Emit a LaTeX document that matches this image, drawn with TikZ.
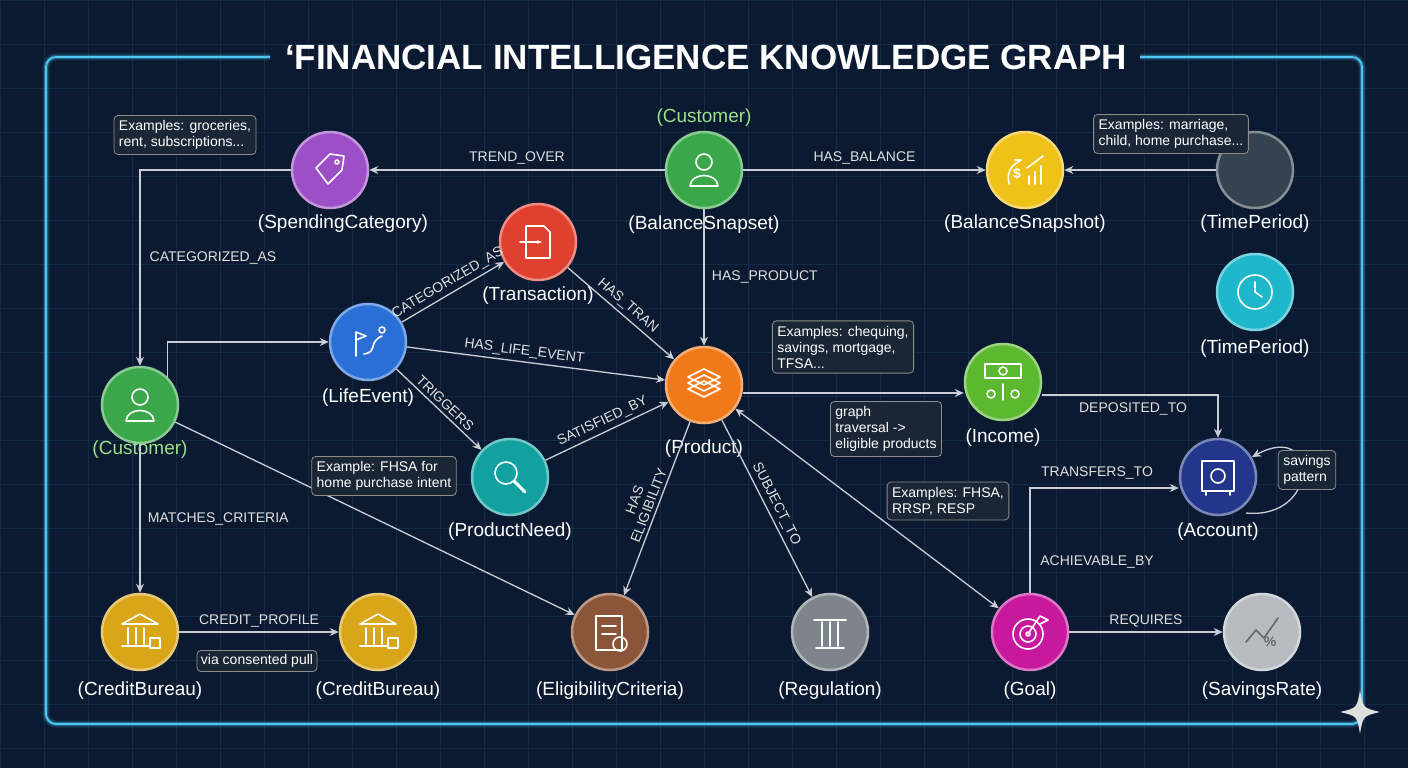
\documentclass[tikz,border=0pt]{standalone}
\usepackage{fontspec}
\setmainfont{Liberation Sans}
\usetikzlibrary{arrows.meta,calc}
\definecolor{bg}{HTML}{0B1A30}
\definecolor{gridc}{HTML}{142B48}
\definecolor{edgec}{HTML}{C9CED6}
\definecolor{lg}{HTML}{9BE08A}
\definecolor{cb}{HTML}{1A2636}
\definecolor{cGreen}{HTML}{3AA84A}
\definecolor{cPurple}{HTML}{9C4FC6}
\definecolor{cYellow}{HTML}{EFC21A}
\definecolor{cDark}{HTML}{34434F}
\definecolor{cCyan}{HTML}{1FB7CC}
\definecolor{cRed}{HTML}{E0402F}
\definecolor{cBlue}{HTML}{2A6FD6}
\definecolor{cOrange}{HTML}{F07A1A}
\definecolor{cLime}{HTML}{5CB82E}
\definecolor{cNavy}{HTML}{23378A}
\definecolor{cTeal}{HTML}{13A0A0}
\definecolor{cGold}{HTML}{D9A61A}
\definecolor{cBrown}{HTML}{8A5538}
\definecolor{cGrey}{HTML}{7D848C}
\definecolor{cMag}{HTML}{C8199E}
\definecolor{cSilver}{HTML}{B8BCC2}
\tikzset{
 ball/.style={circle,minimum size=76pt,fill=#1,draw=#1!60!white,line width=2.5pt},
 lab/.style={text=white,font=\fontsize{19}{22}\selectfont},
 elab/.style={text=white!88!black,font=\fontsize{14}{16}\selectfont},
 arr/.style={draw=edgec,line width=1.3pt,-{Stealth[length=9pt,width=8pt]}},
 call/.style={draw=white!55!black,fill=cb,rounded corners=4pt,line width=0.8pt,text=white,align=left,font=\fontsize{14}{16}\selectfont,inner sep=5pt},
 ic/.style={draw=white,line width=1.6pt,line cap=round,line join=round}
}
\begin{document}
\begin{tikzpicture}[x=1pt,y=-1pt]
\useasboundingbox (0,0) rectangle (1408,768);
\fill[bg] (0,0) rectangle (1408,768);
\foreach \x in {0,44,...,1408} \draw[gridc,line width=0.6pt] (\x,0) -- (\x,768);
\foreach \y in {0,44,...,768} \draw[gridc,line width=0.6pt] (0,\y) -- (1408,\y);
% frame
\foreach \w/\o in {7/0.15,4/0.3,1.8/1}{
 \draw[cyan!70!white,opacity=\o,line width=\w pt,rounded corners=10pt] (270,57) -- (46,57) -- (46,724) -- (1362,724) -- (1362,57) -- (1140,57);}
\node[text=white,font=\bfseries\fontsize{35}{40}\selectfont] (title) at (706,57) {‘FINANCIAL INTELLIGENCE KNOWLEDGE GRAPH};
% sparkle
\fill[white!75!gray] (1360,690) .. controls (1363,708) .. (1380,712) .. controls (1363,716) .. (1360,734) .. controls (1357,716) .. (1340,712) .. controls (1357,708) .. (1360,690);
% nodes
\node[ball=cGreen] (ct) at (704,170) {};
\node[ball=cPurple] (sp) at (330,170) {};
\node[ball=cYellow] (bs) at (1025,170) {};
\node[ball=cDark] (tp1) at (1255,170) {};
\node[ball=cCyan] (tp2) at (1255,292) {};
\node[ball=cRed] (tr) at (538,242) {};
\node[ball=cBlue] (le) at (368,342) {};
\node[ball=cGreen] (cl) at (140,405) {};
\node[ball=cOrange] (pr) at (704,385) {};
\node[ball=cLime] (in) at (1003,382) {};
\node[ball=cNavy] (ac) at (1218,477) {};
\node[ball=cTeal] (pn) at (510,477) {};
\node[ball=cGold] (cb1) at (140,632) {};
\node[ball=cGold] (cb2) at (378,632) {};
\node[ball=cBrown] (el) at (610,632) {};
\node[ball=cGrey] (rg) at (830,632) {};
\node[ball=cMag] (go) at (1030,632) {};
\node[ball=cSilver] (sr) at (1262,632) {};
% labels
\node[lab,text=lg] (l1) at (704,118) {(Customer)};
\node[lab] (l2) at (704,225) {(BalanceSnapset)};
\node[lab] (l3) at (343,224) {(SpendingCategory)};
\node[lab] (l4) at (1025,224) {(BalanceSnapshot)};
\node[lab] (l5) at (1255,224) {(TimePeriod)};
\node[lab] (l6) at (1255,349) {(TimePeriod)};
\node[lab] (l7) at (538,296) {(Transaction)};
\node[lab] (l8) at (368,398) {(LifeEvent)};
\node[lab,text=lg] (l9) at (140,450) {(Customer)};
\node[lab] (l10) at (704,449) {(Product)};
\node[lab] (l11) at (1003,438) {(Income)};
\node[lab] (l12) at (1218,532) {(Account)};
\node[lab] (l13) at (510,532) {(ProductNeed)};
\node[lab] (l14) at (140,691) {(CreditBureau)};
\node[lab] (l15) at (378,691) {(CreditBureau)};
\node[lab] (l16) at (610,691) {(EligibilityCriteria)};
\node[lab] (l17) at (830,691) {(Regulation)};
\node[lab] (l18) at (1030,691) {(Goal)};
\node[lab] (l19) at (1262,691) {(SavingsRate)};
% icons
\foreach \n in {ct,cl}{\draw[ic] ($(\n)+(0,-8)$) circle (8); \draw[ic] ($(\n)+(-14,16)$) .. controls ($(\n)+(-13,2)$) and ($(\n)+(13,2)$) .. ($(\n)+(14,16)$) -- cycle;}
\draw[ic] ($(sp)+(-14,-2)$) -- ($(sp)+(0,-16)$) -- ($(sp)+(14,-14)$) -- ($(sp)+(12,0)$) -- ($(sp)+(-2,14)$) -- cycle; \draw[ic] ($(sp)+(7,-8)$) circle (2);
\draw[ic] ($(bs)+(-16,14)$) .. controls ($(bs)+(-20,-4)$) and ($(bs)+(-6,-8)$) .. ($(bs)+(-4,-10)$) -- ($(bs)+(-10,-10)$) ; \node[text=white,font=\bfseries\fontsize{14}{14}\selectfont] at ($(bs)+(-8,4)$) {\$}; \draw[ic] ($(bs)+(4,14)$) -- ($(bs)+(4,6)$) ($(bs)+(10,14)$) -- ($(bs)+(10,2)$) ($(bs)+(16,14)$) -- ($(bs)+(16,-4)$) ($(bs)+(2,-2)$) -- ($(bs)+(18,-14)$);
\draw[ic] (tp2.center) circle (17); \draw[ic] ($(tp2.center)+(0,-10)$) -- (tp2.center) -- ($(tp2.center)+(7,5)$);
\draw[ic] ($(tr)+(-12,-16)$) -- ($(tr)+(6,-16)$) -- ($(tr)+(12,-10)$) -- ($(tr)+(12,16)$) -- ($(tr)+(-12,16)$) -- cycle; \draw[ic,-{Stealth[length=5pt]}] ($(tr)+(-18,0)$) -- ($(tr)+(4,0)$);
\draw[ic] ($(le)+(-12,14)$) -- ($(le)+(-12,-10)$) -- ($(le)+(-2,-6)$) -- ($(le)+(-12,-2)$); \draw[ic] ($(le)+(-4,12)$) .. controls ($(le)+(10,10)$) and ($(le)+(0,0)$) .. ($(le)+(14,-6)$); \draw[ic] ($(le)+(14,-12)$) circle (3);
\foreach \d in {-8,-2,4}{\draw[ic] ($(pr)+(-16,\d)$) -- ($(pr)+(0,\d-8)$) -- ($(pr)+(16,\d)$) -- ($(pr)+(0,\d+8)$) -- cycle;}
\draw[ic] ($(in)+(-18,-18)$) rectangle ($(in)+(18,-4)$); \draw[ic] ($(in)+(0,-11)$) circle (4); \draw[ic] ($(in)+(0,18)$) -- ($(in)+(0,2)$) ($(in)+(-12,12)$) circle (4) ($(in)+(12,12)$) circle (4);
\draw[ic] ($(ac)+(-16,-16)$) rectangle ($(ac)+(16,14)$); \draw[ic] ($(ac)+(0,-1)$) circle (7); \draw[ic] ($(ac)+(-12,14)$) -- ($(ac)+(-12,18)$) ($(ac)+(12,14)$) -- ($(ac)+(12,18)$);
\draw[ic] ($(pn)+(-4,-4)$) circle (11); \draw[ic,line width=3pt] ($(pn)+(4,4)$) -- ($(pn)+(15,15)$);
\foreach \n in {cb1,cb2}{\draw[ic] ($(\n)+(-18,-8)$) -- ($(\n)+(0,-18)$) -- ($(\n)+(18,-8)$) -- cycle; \draw[ic] ($(\n)+(-12,-4)$) -- ($(\n)+(-12,12)$) ($(\n)+(-4,-4)$) -- ($(\n)+(-4,12)$) ($(\n)+(4,-4)$) -- ($(\n)+(4,12)$) ($(\n)+(-18,14)$) -- ($(\n)+(10,14)$); \draw[ic] ($(\n)+(10,6)$) rectangle ($(\n)+(20,16)$);}
\draw[ic] ($(el)+(-14,-16)$) rectangle ($(el)+(12,18)$); \draw[ic] ($(el)+(-8,-6)$) -- ($(el)+(6,-6)$) ($(el)+(-8,2)$) -- ($(el)+(6,2)$); \draw[ic] ($(el)+(10,12)$) circle (7);
\draw[ic] ($(rg)+(-16,-12)$) -- ($(rg)+(16,-12)$) ($(rg)+(-14,16)$) -- ($(rg)+(14,16)$) ($(rg)+(-8,-10)$) -- ($(rg)+(-8,14)$) ($(rg)+(0,-10)$) -- ($(rg)+(0,14)$) ($(rg)+(8,-10)$) -- ($(rg)+(8,14)$);
\draw[ic] ($(go)+(-2,2)$) circle (15) ($(go)+(-2,2)$) circle (8) ($(go)+(-2,2)$) circle (2); \draw[ic] ($(go)+(-2,2)$) -- ($(go)+(10,-16)$) -- ($(go)+(18,-12)$) -- ($(go)+(10,-8)$);
\draw[ic,draw=black!60] ($(sr)+(-16,10)$) -- ($(sr)+(-6,-2)$) -- ($(sr)+(2,6)$) -- ($(sr)+(16,-14)$); \node[text=black!60,font=\bfseries\fontsize{14}{14}\selectfont] at ($(sr)+(8,10)$) {\%};
% edges
\draw[arr] (ct) -- (sp) node[elab,midway,above=2pt] (e1) {TREND\_OVER};
\draw[arr] (ct) -- (bs) node[elab,midway,above=2pt] (e2) {HAS\_BALANCE};
\draw[arr] (tp1) -- (bs);
\draw[arr] (sp.west) -- (140,170) -- (cl.north);
\node[elab] (e3) at (213,258) {CATEGORIZED\_AS};
\draw[arr] (cl.north east) -- ++(0,-18) |- (le.west);
\draw[arr] (le) -- (tr) node[elab,midway,above,sloped] (e4) {CATEGORIZED\_AS};
\draw[arr] (tr) -- (pr) node[elab,midway,above,sloped] (e5) {HAS\_TRAN};
\draw[arr] (ct) -- (pr) node[elab,midway,right=4pt] (e6) {HAS\_PRODUCT};
\draw[arr] (le) -- (pr) node[elab,pos=0.45,above,sloped] (e7) {HAS\_LIFE\_EVENT};
\draw[arr] (le) -- (pn) node[elab,midway,above,sloped] (e8) {TRIGGERS};
\draw[arr] (pn) -- (pr) node[elab,midway,above,sloped] (e9) {SATISFIED\_BY};
\draw[arr] ($(pr.east)+(0,8)$) -- ($(in.west)+(0,11)$);
\draw[arr] ($(in.east)+(0,13)$) -| (ac.north);
\node[elab] (e10) at (1133,409) {DEPOSITED\_TO};
\draw[arr] (pr) -- (el) node[elab,midway,above,sloped,align=center,font=\fontsize{14}{15}\selectfont] (e11) {HAS\\ELIGIBILITY};
\draw[arr] (pr) -- (rg) node[elab,midway,above,sloped] (e12) {SUBJECT\_TO};
\draw[arr,{Stealth[length=9pt,width=8pt]}-{Stealth[length=9pt,width=8pt]}] (pr) -- (go);
\draw[arr] (cl) -- (el);
\draw[arr] (cl) -- (cb1) node[elab,midway,right=4pt] (e13) {MATCHES\_CRITERIA};
\draw[arr] (cb1) -- (cb2) node[elab,midway,above=1pt] (e14) {CREDIT\_PROFILE};
\draw[arr] (go.north) -- (1030,488) -- (ac.west |- 0,488);
\node[elab] (e15) at (1097,473) {TRANSFERS\_TO};
\node[elab] (e16) at (1097,562) {ACHIEVABLE\_BY};
\draw[arr] (go) -- (sr) node[elab,midway,above=1pt] (e17) {REQUIRES};
\draw[arr] ($(ac)+(28,36)$) .. controls (1320,520) and (1320,420) .. ($(ac)+(34,-20)$);
% callouts
\node[call] (c1) at (185,135) {Examples: groceries,\\rent, subscriptions...};
\node[call] (c2) at (1171,134) {Examples: marriage,\\child, home purchase...};
\node[call] (c3) at (843,347) {Examples: chequing,\\savings, mortgage,\\TFSA...};
\node[call] (c4) at (886,429) {graph\\traversal ->\\eligible products};
\node[call] (c5) at (384,476) {Example: FHSA for\\home purchase intent};
\node[call] (c6) at (948,501) {Examples: FHSA,\\RRSP, RESP};
\node[call,inner sep=4pt] (c7) at (257,661) {via consented pull};
\node[call] (c8) at (1307,470) {savings\\pattern};
\end{tikzpicture}
\end{document}
